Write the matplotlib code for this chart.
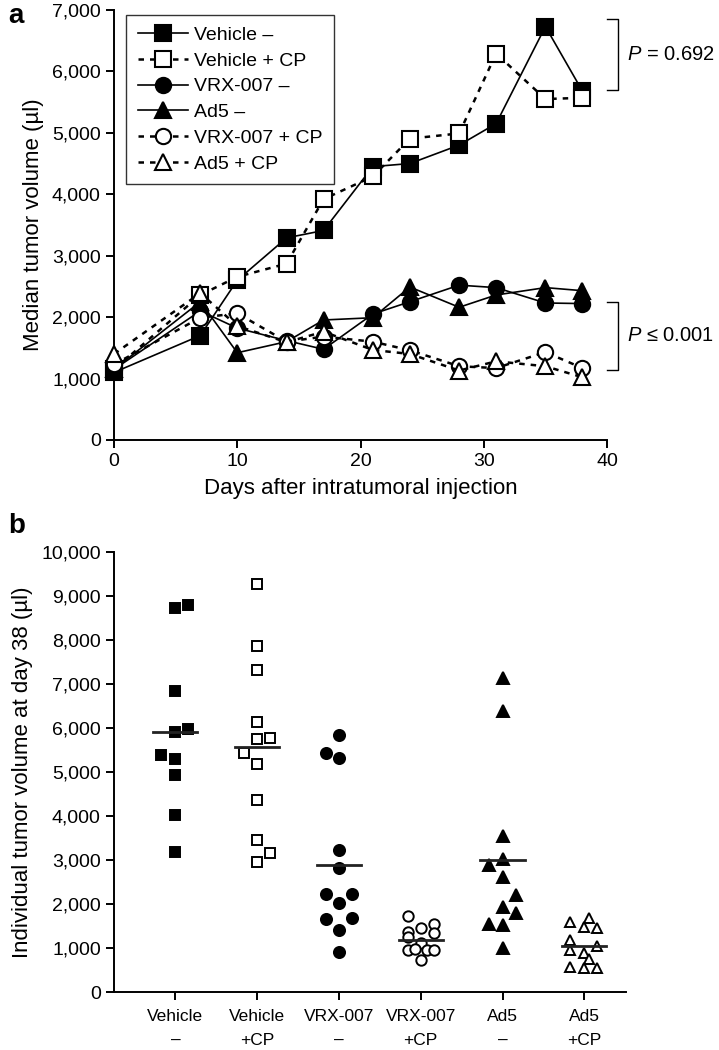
import numpy as np
import matplotlib
matplotlib.use('Agg')
import matplotlib.pyplot as plt
from matplotlib.ticker import StrMethodFormatter, MultipleLocator

plt.rcParams['font.family'] = ['Liberation Sans', 'DejaVu Sans']
plt.rcParams['mathtext.fontset'] = 'custom'
plt.rcParams['mathtext.rm'] = 'Liberation Sans'
plt.rcParams['mathtext.it'] = 'Liberation Sans:italic'

# ---- panel a: median tumor volume over time (ul)
days = [0, 7, 10, 14, 17, 21, 24, 28, 31, 35, 38]
vehicle = [1100, 1700, 2600, 3290, 3410, 4450, 4500, 4800, 5150, 6730, 5680]
vehicle_cp = [1150, 2360, 2655, 2870, 3920, 4290, 4905, 4990, 6290, 5550, 5570]
vrx = [1150, 2100, 1820, 1617, 1476, 2050, 2250, 2520, 2480, 2230, 2220]
ad5 = [1150, 2250, 1420, 1600, 1953, 1990, 2490, 2160, 2360, 2480, 2430]
vrx_cp = [1230, 1990, 2062, 1600, 1682, 1600, 1460, 1200, 1170, 1430, 1170]
ad5_cp = [1400, 2390, 1856, 1590, 1763, 1465, 1400, 1130, 1280, 1200, 1020]

# ---- panel b: individual tumor volume at day 38 (ul)
groups = ['Vehicle\n\u2013', 'Vehicle\n+CP', 'VRX-007\n\u2013',
          'VRX-007\n+CP', 'Ad5\n\u2013', 'Ad5\n+CP']
veh38 = [8730, 8790, 6840, 5910, 5970, 5390, 5290, 4940, 4020, 3180]
veh38_dx = [0, 0.15, 0, 0, 0.15, -0.17, 0, 0, 0, 0]
vehcp38 = [9280, 7870, 7310, 6140, 5740, 5770, 5430, 5190, 4370, 3450, 3170, 2960]
vehcp38_dx = [0, 0, 0, 0, 0, 0.16, -0.16, 0, 0, 0, 0.16, 0]
vrx38 = [5840, 5430, 5310, 3220, 2830, 2230, 2230, 2030, 1650, 1690, 1410, 900]
vrx38_dx = [0, -0.16, 0, 0, 0, -0.16, 0.16, 0, -0.16, 0.16, 0, 0]
vrxcp38 = [1727, 1447, 1545, 1333, 1371, 1258, 1106, 955, 970, 955, 955, 727]
vrxcp38_dx = [-0.16, 0, 0.16, 0.16, -0.16, -0.16, 0, -0.16, -0.07, 0.08, 0.16, 0]
ad538 = [7140, 6380, 3540, 3030, 2890, 2610, 2210, 1930, 1790, 1550, 1530, 990]
ad538_dx = [0, 0, 0, 0, -0.17, 0, 0.16, 0, 0.16, -0.17, 0, 0]
ad5cp38 = [1598, 1674, 1470, 1447, 1182, 955, 1045, 894, 742, 561, 538, 538]
ad5cp38_dx = [-0.17, 0.06, 0, 0.15, -0.17, -0.17, 0.15, 0, 0.06, -0.17, 0, 0.15]
medians38 = [5920, 5560, 2885, 1180, 3000, 1045]

fig = plt.figure(figsize=(7.19, 10.5), dpi=100)

# ================= panel a
ax = fig.add_axes([0.1586, 0.581, 0.6857, 0.4095])
dot = (0, (2.2, 2.4))
ms = 11
series = [
    (vehicle, 'Vehicle \u2013', 's', 'black', '-', 1.2),
    (vehicle_cp, 'Vehicle + CP', 's', 'white', dot, 1.8),
    (vrx, 'VRX-007 \u2013', 'o', 'black', '-', 1.2),
    (ad5, 'Ad5 \u2013', '^', 'black', '-', 1.2),
    (vrx_cp, 'VRX-007 + CP', 'o', 'white', dot, 1.8),
    (ad5_cp, 'Ad5 + CP', '^', 'white', dot, 1.8),
]
for vals, lab, mk, fc, ls, lw in series:
    ax.plot(days, vals, linestyle=ls, linewidth=lw, color='black', marker=mk,
            markersize=ms, markerfacecolor=fc, markeredgecolor='black',
            markeredgewidth=1.5, label=lab, clip_on=False, zorder=3)

ax.set_xlim(0, 40)
ax.set_ylim(0, 7000)
ax.xaxis.set_major_locator(MultipleLocator(10))
ax.yaxis.set_major_locator(MultipleLocator(1000))
ax.yaxis.set_major_formatter(StrMethodFormatter('{x:,.0f}'))
for s in ['top', 'right']:
    ax.spines[s].set_visible(False)
for s in ['left', 'bottom']:
    ax.spines[s].set_linewidth(1.4)
ax.tick_params(labelsize=14, width=1.4, length=6)
ax.set_ylabel('Median tumor volume (\u00b5l)', fontsize=16, labelpad=6)
ax.set_xlabel('Days after intratumoral injection', fontsize=16, labelpad=6)

leg = ax.legend(loc='upper left', bbox_to_anchor=(0.005, 1.012), fontsize=14,
                frameon=True, fancybox=False, edgecolor='black',
                handlelength=2.6, labelspacing=0.42, borderpad=0.6,
                handletextpad=0.3)
leg.get_frame().set_linewidth(1.0)

# significance brackets (drawn outside the axes)
for y0, y1, txt in [(5700, 6850, '$P$ = 0.692'), (1140, 2250, '$P$ \u2264 0.001')]:
    ax.plot([40.0, 40.9, 40.9, 40.0], [y1, y1, y0, y0], color='black',
            lw=1.0, clip_on=False)
    ax.text(41.6, (y0 + y1) / 2, txt, fontsize=14.5, va='center', ha='left',
            clip_on=False)

fig.text(0.012, 0.985, 'a', fontsize=20, fontweight='bold', va='center')

# ================= panel b
bx = fig.add_axes([0.1586, 0.0552, 0.7121, 0.4191])
pos = np.arange(1, 7)
groupdata = [
    (veh38, veh38_dx, 's', 'black', 7.5),
    (vehcp38, vehcp38_dx, 's', 'white', 7.5),
    (vrx38, vrx38_dx, 'o', 'black', 8),
    (vrxcp38, vrxcp38_dx, 'o', 'white', 7.5),
    (ad538, ad538_dx, '^', 'black', 8),
    (ad5cp38, ad5cp38_dx, '^', 'white', 7.5),
]
for p, (vals, dx, mk, fc, sz), med in zip(pos, groupdata, medians38):
    bx.plot(p + np.array(dx), vals, linestyle='none', marker=mk, markersize=sz,
            markerfacecolor=fc, markeredgecolor='black', markeredgewidth=1.4,
            zorder=3)
    bx.plot([p - 0.27, p + 0.27], [med, med], color='#222222', lw=2, zorder=4)

bx.set_xlim(0.25, 6.51)
bx.set_ylim(0, 10000)
bx.set_xticks(pos)
bx.set_xticklabels(groups, fontsize=12.5, linespacing=1.75)
bx.yaxis.set_major_locator(MultipleLocator(1000))
bx.yaxis.set_major_formatter(StrMethodFormatter('{x:,.0f}'))
for s in ['top', 'right']:
    bx.spines[s].set_visible(False)
for s in ['left', 'bottom']:
    bx.spines[s].set_linewidth(1.4)
bx.tick_params(axis='y', labelsize=14, width=1.4, length=6)
bx.tick_params(axis='x', width=1.4, length=6, pad=6)
bx.set_ylabel('Individual tumor volume at day 38 (\u00b5l)', fontsize=16,
              labelpad=6)

fig.text(0.012, 0.499, 'b', fontsize=20, fontweight='bold', va='center')

fig.savefig('out.png', dpi=100)
